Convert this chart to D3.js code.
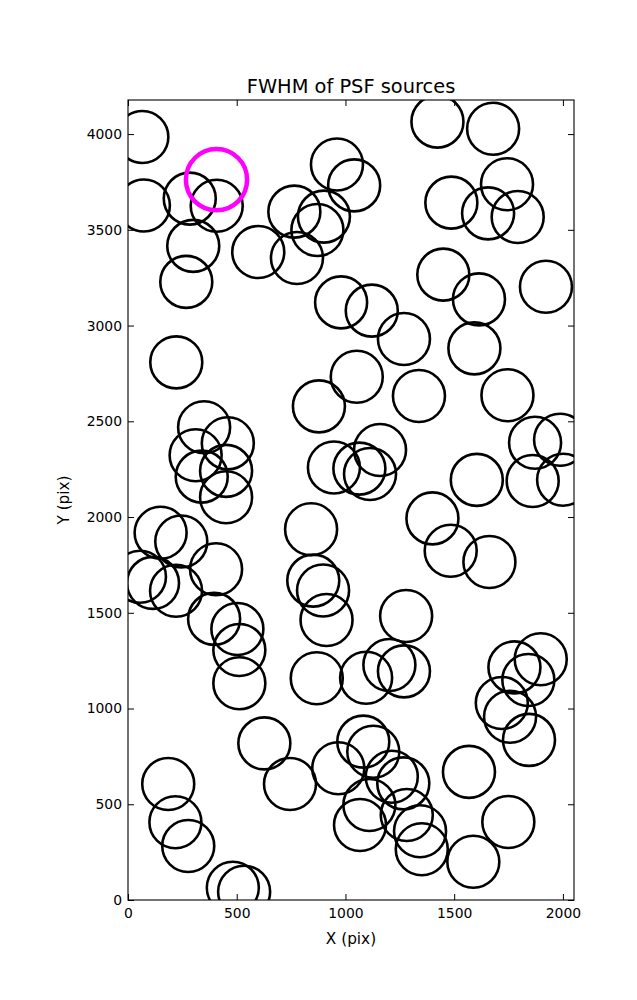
<!DOCTYPE html>
<html>
<head>
<meta charset="utf-8">
<script src="https://cdn.jsdelivr.net/npm/d3@7"></script>
<style>
  html, body { margin: 0; padding: 0; background: #fff; }
  svg { display: block; }
  text { font-family: "DejaVu Sans", sans-serif; fill: #000; }
</style>
</head>
<body>
<div id="chart"></div>
<script>
// ---- data (source centres in detector pixels) ----
const srcX = [66, 73, 284, 408, 300, 268, 599, 765, 901, 871, 777, 961, 1040, 1423, 1679, 1743, 1487, 1656, 1792, 1450,
  1614, 1922, 980, 1121, 222, 350, 459, 311, 451, 339, 451, 150, 245, 405, 1269, 1593, 1052, 878, 1338, 1745,
  1872, 1987, 1604, 1861, 2001, 1159, 947, 1064, 1113, 842, 1400, 1484, 1662, 55, 115, 221, 396, 503, 512, 512,
  627, 852, 897, 913, 868, 1279, 1095, 1202, 1269, 1777, 1898, 1841, 1719, 1757, 1844, 1568, 1082, 1128, 967, 1213,
  1266, 745, 185, 218, 277, 482, 534, 1067, 1110, 1282, 1343, 1351, 1588, 1749];
const srcY = [3985, 3627, 3663, 3626, 3416, 3228, 3384, 3595, 3569, 3499, 3353, 3841, 3732, 4065, 4028, 3738, 3642, 3586, 3567, 3266,
  3137, 3203, 3121, 3078, 2808, 2469, 2385, 2323, 2241, 2211, 2103, 1918, 1872, 1727, 2930, 2881, 2733, 2578, 2632, 2636,
  2388, 2404, 2194, 2188, 2195, 2350, 2259, 2253, 2225, 1936, 1993, 1824, 1765, 1688, 1656, 1615, 1468, 1415, 1306, 1132,
  818, 1668, 1616, 1462, 1158, 1483, 1161, 1227, 1194, 1215, 1257, 1149, 1029, 957, 836, 669, 827, 774, 688, 644,
  609, 606, 606, 406, 282, 64, 43, 392, 496, 444, 359, 265, 200, 407];
const highlightX = [407];
const highlightY = [3762];
const xTicks = [0, 500, 1000, 1500, 2000];
const yTicks = [0, 500, 1000, 1500, 2000, 2500, 3000, 3500, 4000];
const xDomain = [0, 2051];
const yDomain = [0, 4178];
const titleText = "FWHM of PSF sources";
const xLabel = "X (pix)";
const yLabel = "Y (pix)";

// ---- layout ----
const W = 637, H = 1000;
const L = 128, T = 100, PW = 446, PH = 800;

const svg = d3.select("#chart").append("svg").attr("width", W).attr("height", H);

const x = d3.scaleLinear().domain(xDomain).range([L, L + PW]);
const y = d3.scaleLinear().domain(yDomain).range([T + PH, T]);

svg.append("defs").append("clipPath").attr("id", "clip")
  .append("rect").attr("x", L).attr("y", T).attr("width", PW).attr("height", PH);

const plot = svg.append("g").attr("clip-path", "url(#clip)");

const pts = srcX.map((v, i) => ({x: v, y: srcY[i]}));
plot.selectAll("circle.src").data(pts).enter().append("circle")
  .attr("class", "src")
  .attr("cx", d => x(d.x)).attr("cy", d => y(d.y)).attr("r", 26)
  .attr("fill", "none").attr("stroke", "#000").attr("stroke-width", 2.6);

const hp = highlightX.map((v, i) => ({x: v, y: highlightY[i]}));
plot.selectAll("circle.hl").data(hp).enter().append("circle")
  .attr("class", "hl")
  .attr("cx", d => x(d.x)).attr("cy", d => y(d.y)).attr("r", 30.6)
  .attr("fill", "none").attr("stroke", "#ff00ff").attr("stroke-width", 4.5);

// ---- axes (classic matplotlib: ticks inside on all four sides) ----
const tickLen = 6;
const fs = 13.9;

const axB = svg.append("g").attr("transform", `translate(0,${T + PH})`)
  .call(d3.axisBottom(x).tickValues(xTicks).tickFormat(d3.format("d")).tickSizeInner(-tickLen).tickSizeOuter(0).tickPadding(8));
const axT = svg.append("g").attr("transform", `translate(0,${T})`)
  .call(d3.axisTop(x).tickValues(xTicks).tickFormat("").tickSizeInner(-tickLen).tickSizeOuter(0));
const axL = svg.append("g").attr("transform", `translate(${L},0)`)
  .call(d3.axisLeft(y).tickValues(yTicks).tickFormat(d3.format("d")).tickSizeInner(-tickLen).tickSizeOuter(0).tickPadding(6));
const axR = svg.append("g").attr("transform", `translate(${L + PW},0)`)
  .call(d3.axisRight(y).tickValues(yTicks).tickFormat("").tickSizeInner(-tickLen).tickSizeOuter(0));

[axB, axT, axL, axR].forEach(g => {
  g.select(".domain").remove();
  g.selectAll(".tick line").attr("stroke", "#000").attr("stroke-width", 1);
  g.selectAll(".tick text").attr("font-family", "DejaVu Sans").attr("font-size", fs).attr("fill", "#000");
});
axB.selectAll(".tick text").attr("dy", "0.71em");

svg.append("rect").attr("x", L).attr("y", T).attr("width", PW).attr("height", PH)
  .attr("fill", "none").attr("stroke", "#000").attr("stroke-width", 1.1);

// ---- text ----
svg.append("text").attr("x", L + PW / 2).attr("y", 93).attr("text-anchor", "middle")
  .attr("font-size", 19.4).text(titleText);
svg.append("text").attr("x", L + PW / 2).attr("y", 944).attr("text-anchor", "middle")
  .attr("font-size", 15.3).text(xLabel);
svg.append("text").attr("transform", `translate(69,${T + PH / 2}) rotate(-90)`).attr("text-anchor", "middle")
  .attr("font-size", 15.3).text(yLabel);
</script>
</body>
</html>
